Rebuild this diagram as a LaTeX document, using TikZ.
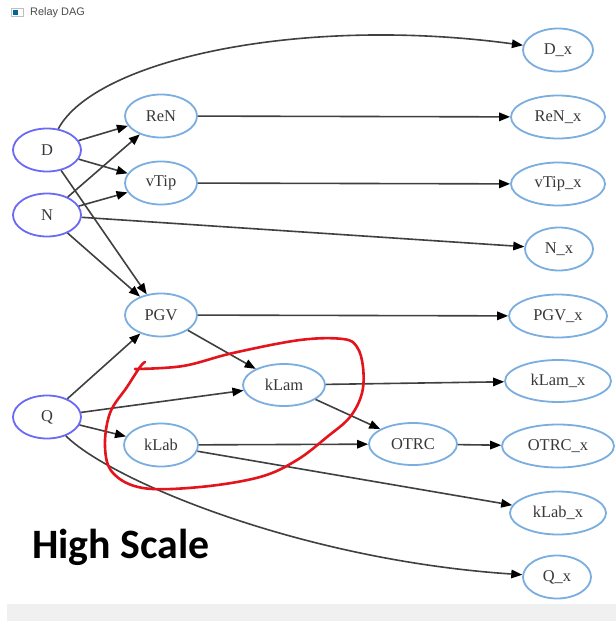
\documentclass[tikz,border=0pt]{standalone}
\usepackage{fontspec}
\setmainfont{Liberation Serif}
\newfontfamily\uifont{Liberation Sans}
\newfontfamily\notefont{Carlito}
\usetikzlibrary{shapes.geometric,arrows.meta}
\definecolor{srcblue}{HTML}{6A6AF5}
\definecolor{nodeblue}{HTML}{7AAEE0}
\definecolor{edgegray}{HTML}{404040}
\definecolor{inkred}{HTML}{E3141C}
\begin{document}
\begin{tikzpicture}[x=1bp,y=-1bp,
  var/.style={ellipse,draw=nodeblue,line width=1.8bp,inner sep=0pt,
    minimum height=43bp,font=\fontsize{16.5}{19}\selectfont,text=black!78},
  src/.style={var,draw=srcblue,minimum width=68bp},
  mid/.style={var,minimum width=72bp},
  link/.style={draw=edgegray,line width=1.6bp,
    -{Triangle[length=11bp,width=8.5bp,color=black]}},
  ink/.style={draw=inkred,line width=2.6bp,line cap=round,line join=round}]

% canvas and window chrome
\fill[white] (0,0) rectangle (616,621);
\useasboundingbox (0,0) rectangle (616,621);
\fill[black!6] (7,604) rectangle (616,621);
\fill[black!25] (11,8) rectangle (24,17);
\fill[white] (12,9) rectangle (23,16);
\fill[teal!80!blue] (13,10) rectangle (18,15);
\node[anchor=west,inner sep=0pt,font=\uifont\fontsize{11}{13}\selectfont,text=black!70] (title) at (30,13) {Relay DAG};

% source variables
\node[src] (D) at (47,150) {D};
\node[src] (N) at (47,215) {N};
\node[src] (Q) at (47,417) {Q};

% intermediate variables
\node[mid] (ReN) at (161,116) {ReN};
\node[mid] (vTip) at (161,183) {vTip};
\node[mid] (PGV) at (161,315) {PGV};
\node[var,minimum width=74bp] (kLab) at (161,445) {kLab};
\node[var,minimum width=82bp,minimum height=42bp] (kLam) at (284,385) {kLam};
\node[var,minimum width=88bp,minimum height=42bp] (OTRC) at (413,444) {OTRC};

% outputs
\node[var,minimum width=70bp] (Dx) at (558,50) {D\_x};
\node[var,minimum width=94bp] (ReNx) at (558,117) {ReN\_x};
\node[var,minimum width=94bp] (vTipx) at (558,184) {vTip\_x};
\node[var,minimum width=68bp] (Nx) at (559,249) {N\_x};
\node[var,minimum width=98bp] (PGVx) at (558,316) {PGV\_x};
\node[var,minimum width=106bp,minimum height=42bp] (kLamx) at (558,381) {kLam\_x};
\node[var,minimum width=112bp] (OTRCx) at (558,446) {OTRC\_x};
\node[var,minimum width=96bp] (kLabx) at (558,513) {kLab\_x};
\node[var,minimum width=68bp] (Qx) at (557,577) {Q\_x};

% edges
\draw[link] (D) .. controls (95,60) and (300,15) .. (Dx);
\draw[link] (D) -- (ReN);
\draw[link] (D) -- (vTip);
\draw[link] (D) -- (PGV);
\draw[link] (N) -- (ReN);
\draw[link] (N) -- (vTip);
\draw[link] (N) -- (Nx);
\draw[link] (N) -- (PGV);
\draw[link] (Q) -- (PGV);
\draw[link] (Q) -- (kLam);
\draw[link] (Q) -- (kLab);
\draw[link] (Q) .. controls (110,480) and (300,560) .. (Qx);
\draw[link] (ReN) -- (ReNx);
\draw[link] (vTip) -- (vTipx);
\draw[link] (PGV) -- (PGVx);
\draw[link] (PGV) -- (kLam);
\draw[link] (kLam) -- (kLamx);
\draw[link] (kLam) -- (OTRC);
\draw[link] (kLab) -- (OTRC);
\draw[link] (kLab) -- (kLabx);
\draw[link] (OTRC) -- (OTRCx);

% hand-drawn loop around kLam and kLab
\draw[ink] plot[smooth,tension=0.6] coordinates {
  (135,369) (183,366) (233,353) (300,340) (343,339) (357,347) (363,367)
  (362,393) (350,417) (327,437) (297,460) (260,477) (200,487) (143,488)
  (113,473) (105,447) (110,413) (127,387) (140,367) (145,362)};

% annotation
\node[anchor=base west,inner sep=0pt,font=\notefont\bfseries\fontsize{42}{50}\selectfont] (note) at (32,558) {High Scale};
\end{tikzpicture}
\end{document}
